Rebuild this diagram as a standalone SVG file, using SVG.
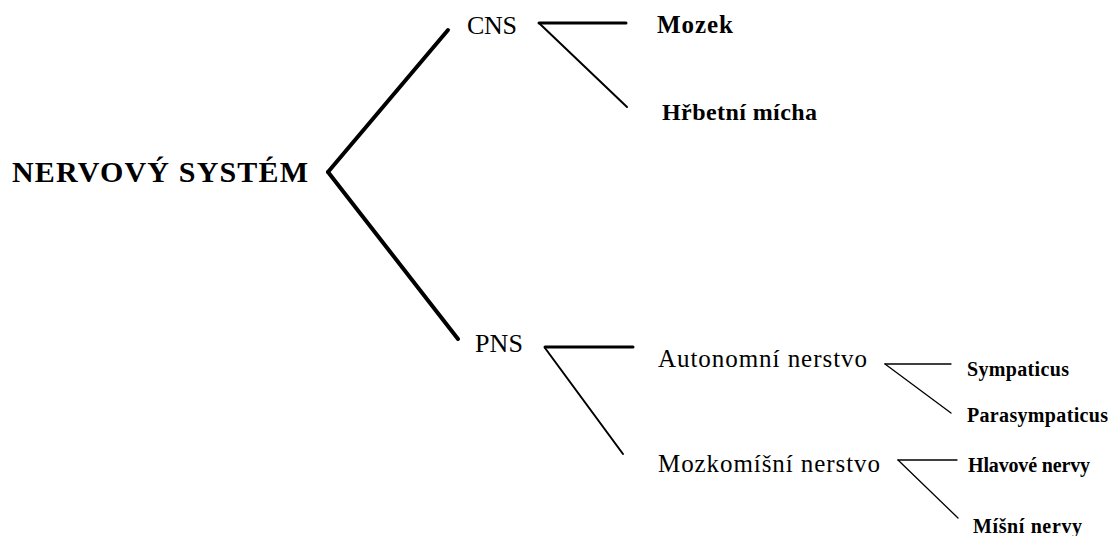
<svg xmlns="http://www.w3.org/2000/svg" width="1110" height="536" viewBox="0 0 1110 536">
<style>
text{font-family:'Liberation Serif','DejaVu Serif',serif;fill:#000}
.reg{font-weight:normal}
.b{font-weight:bold}
line{stroke:#000;stroke-linecap:round}
.t4{stroke-width:4}
.t3{stroke-width:3}
.t2{stroke-width:2}
.t1{stroke-width:1.3}
</style>
<rect width="1110" height="536" fill="#fff"/>
<g id="connectors">
<line class="t4" x1="328" y1="172" x2="448" y2="30"/>
<line class="t4" x1="328" y1="172" x2="458" y2="339"/>
<line class="t3" x1="539" y1="23" x2="626" y2="23"/>
<line class="t2" x1="540" y1="24" x2="627" y2="107"/>
<line class="t3" x1="545" y1="347" x2="633" y2="347"/>
<line class="t2" x1="545" y1="348" x2="623" y2="454"/>
<line class="t1" x1="885" y1="364" x2="951" y2="364"/>
<line class="t1" x1="885" y1="364" x2="951" y2="413"/>
<line class="t1" x1="898" y1="460" x2="957" y2="460"/>
<line class="t1" x1="898" y1="460" x2="958" y2="518"/>
</g>
<g id="nervovy-system"><text class="b" x="12" y="182" font-size="30" textLength="296">NERVOVÝ SYSTÉM</text></g>
<g id="cns"><text class="reg" x="467" y="34" font-size="26" textLength="50">CNS</text></g>
<g id="pns"><text class="reg" x="475" y="352" font-size="26" textLength="48">PNS</text></g>
<g id="mozek"><text class="b" x="657" y="33" font-size="25" textLength="76">Mozek</text></g>
<g id="hrbetni-micha"><text class="b" x="662" y="120" font-size="24" textLength="155">Hřbetní mícha</text></g>
<g id="autonomni"><text class="reg" x="658" y="367" font-size="25" textLength="209">Autonomní nerstvo</text></g>
<g id="mozkomisni"><text class="reg" x="658" y="472" font-size="25" textLength="222">Mozkomíšní nerstvo</text></g>
<g id="sympaticus"><text class="b" x="967" y="376" font-size="20" textLength="102">Sympaticus</text></g>
<g id="parasympaticus"><text class="b" x="967" y="422" font-size="20" textLength="141">Parasympaticus</text></g>
<g id="hlavove"><text class="b" x="968" y="472" font-size="20" textLength="122">Hlavové nervy</text></g>
<g id="misni"><text class="b" x="973" y="533" font-size="20" textLength="109">Míšní nervy</text></g>
</svg>
